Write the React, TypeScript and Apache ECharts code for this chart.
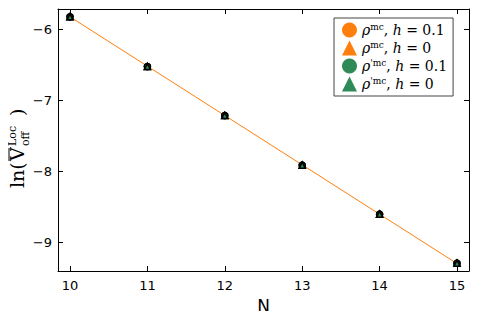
import React, { useEffect, useRef } from "react";
import * as echarts from "echarts";

const sizes = [10, 11, 12, 13, 14, 15];
const rhoH01 = [-5.82, -6.52, -7.21, -7.91, -8.6, -9.29];
const rhoH0 = [-5.82, -6.52, -7.21, -7.91, -8.6, -9.29];
const rhoPH01 = [-5.82, -6.52, -7.21, -7.91, -8.6, -9.29];
const rhoPH0 = [-5.82, -6.52, -7.21, -7.91, -8.6, -9.29];
const fitLine = [-5.82, -6.515, -7.21, -7.905, -8.6, -9.295];
const xTicks = [10, 11, 12, 13, 14, 15];
const yTicks = [-9, -8, -7, -6];

const ORANGE = "#ff7f0e";
const GREEN = "#2e8b57";

export default function App() {
  const ref = useRef<HTMLDivElement>(null);
  useEffect(() => {
    const chart = echarts.init(ref.current!, null, { renderer: "svg" });
    const pairs = (ys: number[]) => sizes.map((x, i) => [x, ys[i]]);
    const tickFont = { fontFamily: "DejaVu Sans", fontSize: 13, color: "#000" };
    const serif = "DejaVu Serif";
    const rich = {
      r: { fontFamily: serif, fontStyle: "italic", fontSize: 14, color: "#000" },
      s: { fontFamily: serif, fontSize: 9, color: "#000", verticalAlign: "top", lineHeight: 12 },
      t: { fontFamily: serif, fontSize: 14, color: "#000" },
      h: { fontFamily: serif, fontStyle: "italic", fontSize: 14, color: "#000" },
    };
    const labels: Record<string, string> = {
      a: "{r|ρ}{s|mc}{t|, }{h|h}{t| = 0.1}",
      b: "{r|ρ}{s|mc}{t|, }{h|h}{t| = 0}",
      c: "{r|ρ}{s|'mc}{t|, }{h|h}{t| = 0.1}",
      d: "{r|ρ}{s|'mc}{t|, }{h|h}{t| = 0}",
    };
    const scatter = (name: string, data: number[][], symbol: string, color: string, z: number) => ({
      name,
      type: "scatter",
      data,
      symbol,
      symbolSize: 6,
      z,
      itemStyle: { color, opacity: 1, borderColor: "#000", borderWidth: 1.6 },
    });
    chart.setOption({
      animation: false,
      grid: { left: 58, right: 9, top: 9, bottom: 43 },
      xAxis: [
        {
          type: "value",
          min: 9.845,
          max: 15.155,
          interval: 1,
          position: "bottom",
          name: "N",
          nameLocation: "middle",
          nameGap: 26,
          nameTextStyle: { fontFamily: "DejaVu Sans", fontSize: 17, color: "#000" },
          axisLine: { onZero: false, lineStyle: { color: "#000", width: 1 } },
          axisTick: { inside: true, length: 5, lineStyle: { color: "#000" }, customValues: xTicks },
          axisLabel: { ...tickFont, margin: 8, customValues: xTicks },
          splitLine: { show: false },
        },
        {
          type: "value",
          min: 9.845,
          max: 15.155,
          position: "top",
          axisLine: { onZero: false, lineStyle: { color: "#000", width: 1 } },
          axisTick: { inside: true, length: 5, lineStyle: { color: "#000" }, customValues: xTicks },
          axisLabel: { show: false },
          splitLine: { show: false },
        },
      ],
      yAxis: [
        {
          type: "value",
          min: -9.4,
          max: -5.71,
          position: "left",
          axisLine: { onZero: false, lineStyle: { color: "#000", width: 1 } },
          axisTick: { inside: true, length: 5, lineStyle: { color: "#000" }, customValues: yTicks },
          axisLabel: { ...tickFont, margin: 6, customValues: yTicks, formatter: (v: number) => String(v).replace("-", "−") },
          splitLine: { show: false },
        },
        {
          type: "value",
          min: -9.4,
          max: -5.71,
          position: "right",
          axisLine: { onZero: false, lineStyle: { color: "#000", width: 1 } },
          axisTick: { inside: true, length: 5, lineStyle: { color: "#000" }, customValues: yTicks },
          axisLabel: { show: false },
          splitLine: { show: false },
        },
      ],
      legend: {
        orient: "vertical",
        left: 334,
        top: 18,
        padding: [4, 6, 4, 8],
        itemGap: 2,
        itemWidth: 15,
        itemHeight: 15,
        borderColor: "#444",
        borderWidth: 1,
        backgroundColor: "#fff",
        data: [
          { name: "a", icon: "circle" },
          { name: "b", icon: "triangle" },
          { name: "c", icon: "circle" },
          { name: "d", icon: "triangle" },
        ],
        itemStyle: { borderWidth: 0, opacity: 1 },
        formatter: (n: string) => labels[n],
        textStyle: { rich, lineHeight: 16 },
      },
      graphic: [
        {
          type: "group",
          x: 26,
          y: 148,
          rotation: Math.PI / 2,
          children: [
            { type: "text", x: -40, y: 0, style: { text: "ln(", font: `19px ${serif}`, fill: "#000", textVerticalAlign: "bottom" } },
            { type: "text", x: -13, y: 0, style: { text: "V", font: `19px ${serif}`, fill: "#000", textVerticalAlign: "bottom" } },
            { type: "line", shape: { x1: -13, y1: -17, x2: 0, y2: -17 }, style: { stroke: "#000", lineWidth: 1 } },
            { type: "text", x: 2, y: -8, style: { text: "Loc", font: `11px ${serif}`, fill: "#000", textVerticalAlign: "bottom" } },
            { type: "text", x: 2, y: 5, style: { text: "off", font: `11px ${serif}`, fill: "#000", textVerticalAlign: "bottom" } },
            { type: "text", x: 32, y: 0, style: { text: ")", font: `19px ${serif}`, fill: "#000", textVerticalAlign: "bottom" } },
          ],
        },
      ],
      series: [
        {
          name: "fit",
          type: "line",
          data: pairs(fitLine),
          symbol: "none",
          lineStyle: { color: ORANGE, width: 1 },
          z: 1,
          silent: true,
        },
        scatter("a", pairs(rhoH01), "circle", ORANGE, 2),
        scatter("b", pairs(rhoH0), "triangle", ORANGE, 3),
        scatter("c", pairs(rhoPH01), "circle", GREEN, 4),
        scatter("d", pairs(rhoPH0), "triangle", GREEN, 5),
      ],
    });
    return () => chart.dispose();
  }, []);
  return <div ref={ref} style={{ width: 478, height: 319, margin: -8 }} />;
}
